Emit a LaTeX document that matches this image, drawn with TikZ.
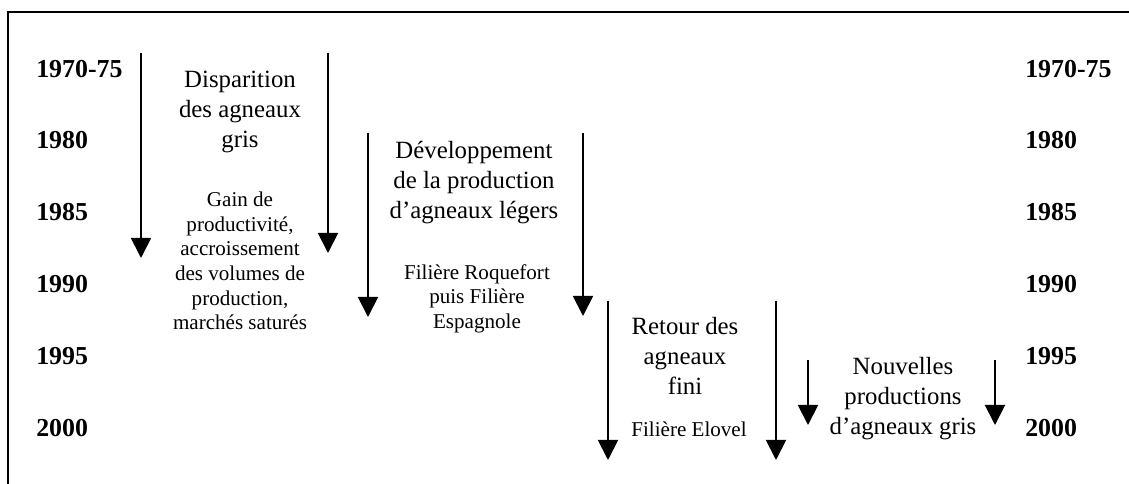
\documentclass[tikz,border=0pt]{standalone}
\usepackage{fontspec}
\setmainfont{Liberation Serif}
\usetikzlibrary{arrows.meta}

\tikzset{
  year/.style={anchor=base west, inner sep=0pt, font=\bfseries\fontsize{19.4}{22}\selectfont},
  headline/.style={anchor=north, inner sep=0pt, align=center, font=\fontsize{18.6}{22.5}\selectfont},
  detail/.style={anchor=north, inner sep=0pt, align=center, font=\fontsize{15.8}{18.4}\selectfont},
  period/.style={line width=1.4pt, -{Triangle[width=15pt,length=15pt]}},
  frameline/.style={line width=1.1pt}
}

\begin{document}
\begin{tikzpicture}[x=0.75pt, y=-0.75pt]
  \useasboundingbox (0,0) rectangle (1129,484);

  % open frame: top and left edges
  \coordinate (fTL) at (8,12);
  \coordinate (fTR) at (1129,12);
  \coordinate (fBL) at (8,484);
  \draw[frameline] (fTR) -- (fTL) -- (fBL);

  % year scale, left and right
  \foreach \yr/\yy [count=\i] in {1970-75/78, 1980/149, 1985/221, 1990/293, 1995/365, 2000/437} {
    \node[year] (yl\i) at (36,\yy) {\yr};
    \node[year] (yr\i) at (1025,\yy) {\yr};
  }

  % period arrows
  \coordinate (a1s) at (141,53);  \coordinate (a1e) at (141,258);
  \coordinate (a2s) at (328,53);  \coordinate (a2e) at (328,253);
  \coordinate (a3s) at (368,133); \coordinate (a3e) at (368,317);
  \coordinate (a4s) at (583,133); \coordinate (a4e) at (583,316);
  \coordinate (a5s) at (608,301); \coordinate (a5e) at (608,460);
  \coordinate (a6s) at (776,301); \coordinate (a6e) at (776,460);
  \coordinate (a7s) at (808,360); \coordinate (a7e) at (808,425);
  \coordinate (a8s) at (995,360); \coordinate (a8e) at (995,425);
  \foreach \k in {1,...,8} { \draw[period] (a\k s) -- (a\k e); }

  % period labels
  \node[headline] (h1) at (240,71) {Disparition\\des agneaux\\gris};
  \node[detail] (d1) at (240,192) {Gain de\\productivité,\\accroissement\\des volumes de\\production,\\marchés saturés};

  \node[headline] (h2) at (474,141) {Développement\\de la production\\d’agneaux légers};
  \node[detail] (d2) at (477,264) {Filière Roquefort\\puis Filière\\Espagnole};

  \node[headline] (h3) at (685,317) {Retour des\\agneaux\\fini};
  \node[detail] (d3) at (689,422) {Filière Elovel};

  \node[headline] (h4) at (903,357) {Nouvelles\\productions\\d’agneaux gris};
\end{tikzpicture}
\end{document}
